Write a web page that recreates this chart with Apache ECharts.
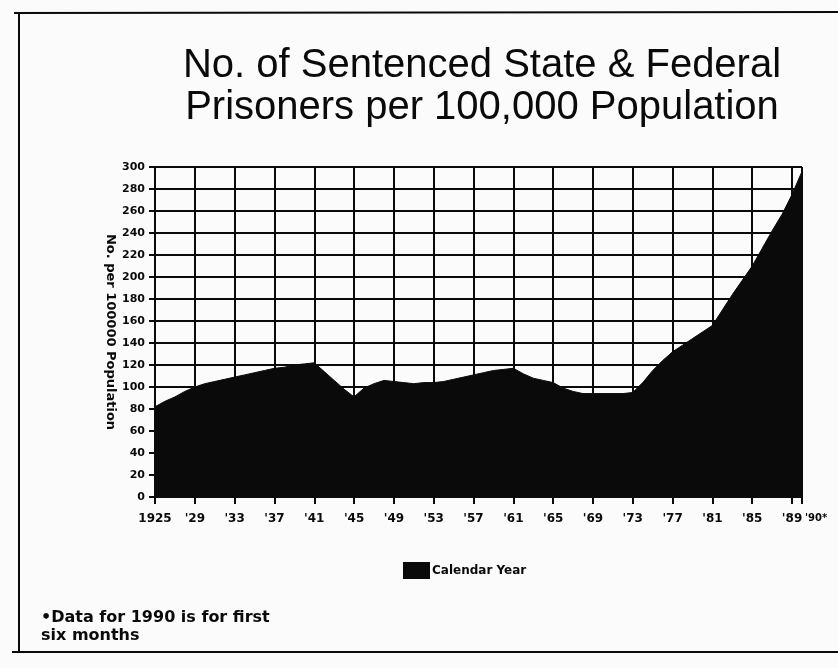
<!DOCTYPE html>
<html>
<head>
<meta charset="utf-8">
<script src="https://cdn.jsdelivr.net/npm/echarts@6/dist/echarts.min.js"></script>
<style>
html,body{margin:0;padding:0;background:#fbfbfb;}
#chart{width:838px;height:668px;}
</style>
</head>
<body>
<div id="chart"></div>
<script>
// Calendar years (categories)
const years = ['1925','1926','1927','1928','1929','1930','1931','1932','1933','1934',
  '1935','1936','1937','1938','1939','1940','1941','1942','1943','1944',
  '1945','1946','1947','1948','1949','1950','1951','1952','1953','1954',
  '1955','1956','1957','1958','1959','1960','1961','1962','1963','1964',
  '1965','1966','1967','1968','1969','1970','1971','1972','1973','1974',
  '1975','1976','1977','1978','1979','1980','1981','1982','1983','1984',
  '1985','1986','1987','1988','1989','1990'];

// Sentenced prisoners per 100,000 population
const rates = [82,87,91,96,100,103,105,107,109,111,
  113,115,117,118,120,121,122,114,106,98,
  91,99,103,106,105,104,103,104,104,105,
  107,109,111,113,115,116,117,112,108,106,
  104,99,96,94,94,94,94,94,95,104,
  115,124,132,138,144,150,156,170,184,197,
  210,226,242,257,275,296];

// X tick labels
const tickYears  = ['1925','1929','1933','1937','1941','1945','1949','1953','1957','1961','1965','1969','1973','1977','1981','1985','1989','1990'];
const tickLabels = ['1925',"'29","'33","'37","'41","'45","'49","'53","'57","'61","'65","'69","'73","'77","'81","'85","'89","'90*"];

// Y tick values
const yTicks = [0,20,40,60,80,100,120,140,160,180,200,220,240,260,280,300];

const labelOf = {};
tickYears.forEach((y, i) => { labelOf[y] = tickLabels[i]; });
const isTick = (idx) => labelOf[years[idx]] !== undefined;

const chart = echarts.init(document.getElementById('chart'), null, {renderer: 'canvas'});
const BLACK = '#0a0a0a';
const BOLD = 'DejaVu Sans';
chart.setOption({
  backgroundColor: '#fbfbfb',
  animation: false,
  title: [{
    text: 'No. of Sentenced State & Federal\nPrisoners per 100,000 Population',
    left: 477, top: 40, textAlign: 'center',
    textStyle: {fontFamily: 'Liberation Sans', fontSize: 40, fontWeight: 'normal', color: BLACK, lineHeight: 42}
  }, {
    text: '\u2022Data for 1990 is for first\nsix months',
    left: 36, top: 604,
    textStyle: {fontFamily: BOLD, fontSize: 16, fontWeight: 'bold', color: BLACK, lineHeight: 18}
  }],
  legend: {
    data: ['Calendar Year'],
    left: 398, top: 557,
    icon: 'rect', itemWidth: 27, itemHeight: 17, itemGap: 4,
    textStyle: {fontFamily: BOLD, fontSize: 12, fontWeight: 'bold', color: BLACK, padding: [0,0,0,-3]}
  },
  grid: {left: 155, right: 36, top: 167, bottom: 171, containLabel: false},
  xAxis: {
    type: 'category', data: years, boundaryGap: false,
    axisLine: {show: true, lineStyle: {color: BLACK, width: 2}},
    axisTick: {show: true, interval: isTick, length: 7, lineStyle: {color: BLACK, width: 2}},
    axisLabel: {
      interval: isTick, margin: 16, color: BLACK,
      fontFamily: BOLD, fontSize: 12, fontWeight: 'bold',
      alignMaxLabel: 'left',
      formatter: (v) => v === '1990' ? '{s|' + labelOf[v] + '}' : labelOf[v],
      rich: {s: {fontFamily: BOLD, fontSize: 10, fontWeight: 'bold', color: BLACK, padding: [0,0,14,3]}}
    },
    splitLine: {show: true, interval: isTick, lineStyle: {color: BLACK, width: 2}}
  },
  yAxis: {
    type: 'value', min: yTicks[0], max: yTicks[yTicks.length - 1], interval: 20,
    name: 'No. per 100000 Population', nameLocation: 'middle', nameRotate: -90, nameGap: 38,
    nameMoveOverlap: false,
    nameTextStyle: {fontFamily: BOLD, fontSize: 13, fontWeight: 'bold', color: BLACK},
    axisLine: {show: true, lineStyle: {color: BLACK, width: 2}},
    axisTick: {show: true, length: 6, lineStyle: {color: BLACK, width: 2}},
    axisLabel: {margin: 10, color: BLACK, fontFamily: BOLD, fontSize: 11, fontWeight: 'bold'},
    splitLine: {show: true, lineStyle: {color: BLACK, width: 2}}
  },
  series: [{
    name: 'Calendar Year', type: 'line', data: rates,
    symbol: 'none', smooth: false,
    lineStyle: {color: BLACK, width: 1},
    itemStyle: {color: BLACK},
    areaStyle: {color: BLACK, opacity: 1}
  }],
  graphic: [
    {type: 'line', shape: {x1: 14, y1: 13, x2: 838, y2: 12}, style: {stroke: BLACK, lineWidth: 2}},
    {type: 'line', shape: {x1: 19, y1: 13, x2: 19, y2: 652}, style: {stroke: BLACK, lineWidth: 2}},
    {type: 'line', shape: {x1: 12, y1: 652, x2: 838, y2: 652}, style: {stroke: BLACK, lineWidth: 2}}
  ]
});
</script>
</body>
</html>
